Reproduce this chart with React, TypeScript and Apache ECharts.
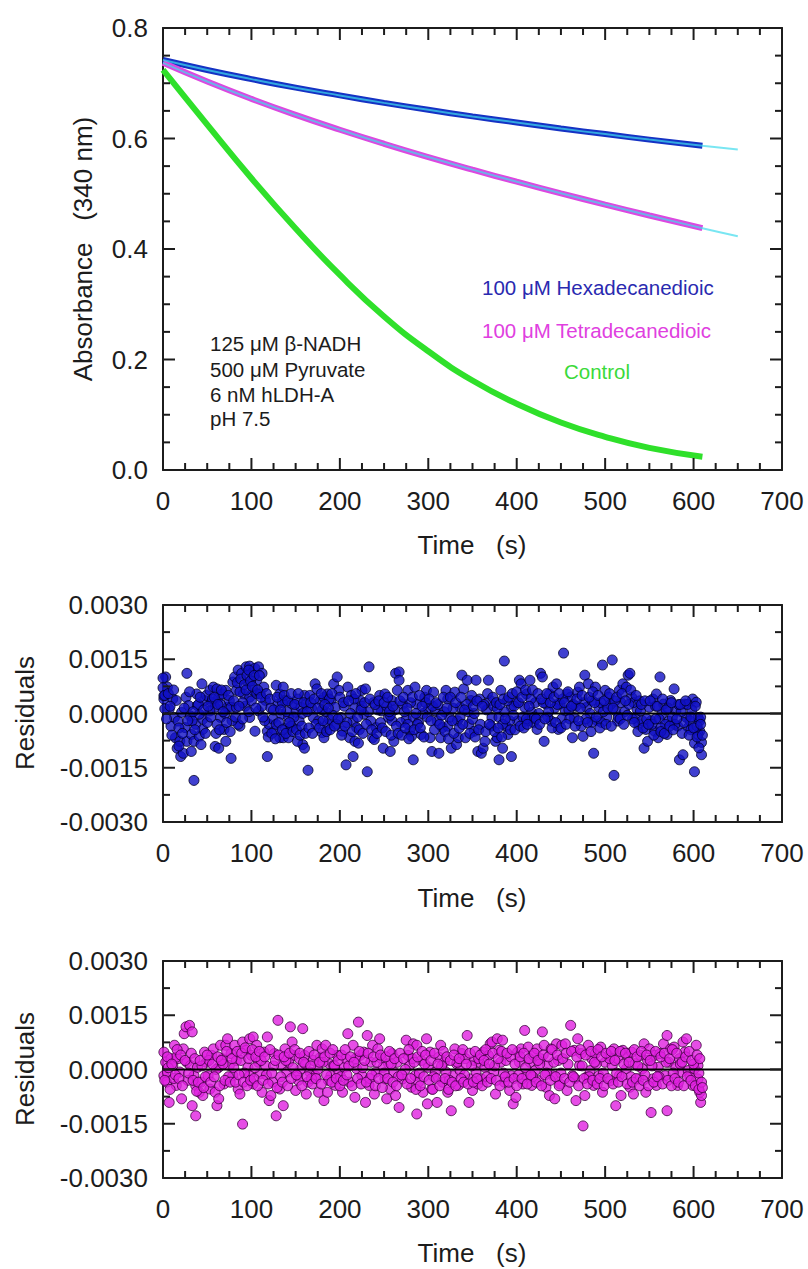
import React, { useEffect, useRef } from "react";
import * as echarts from "echarts";

// ---- Top panel: absorbance traces ----
const hexaT = [0, 50, 100, 150, 200, 250, 300, 350, 400, 450, 500, 550, 610];
const hexaA = [0.742, 0.724, 0.7075, 0.692, 0.678, 0.6645, 0.652, 0.64, 0.629, 0.618, 0.608, 0.598, 0.587];
const hexaExtT = [610, 650];
const hexaExtA = [0.587, 0.58];

const tetraT = [0, 50, 100, 150, 200, 250, 300, 350, 400, 450, 500, 550, 610];
const tetraA = [0.737, 0.7031, 0.6717, 0.6427, 0.6158, 0.5904, 0.5664, 0.5436, 0.5218, 0.5008, 0.4804, 0.4607, 0.4377];
const tetraExtT = [610, 650];
const tetraExtA = [0.4377, 0.4232];

const controlT = [0, 50, 100, 150, 200, 250, 300, 350, 400, 450, 500, 550, 610];
const controlA = [0.724, 0.625, 0.528, 0.437, 0.353, 0.278, 0.215, 0.162, 0.12, 0.086, 0.06, 0.04, 0.024];

// ---- Residuals, [time s, residual x1e-4] ----
const hexaResidE4 = [
  [3,10.1],[5,7.3],[1,4.0],[11,4.0],[7,1.2],[15,3.6],[13,-1.1],[9,-3.5],[14,-6.7],[16,-9.6],[20,-11.9],[23,-11.0],[19,-7.7],[17,-2.1],[27,11.1],[26,4.5],[29,2.2],[25,-3.9],[27,-7.7],[32,-5.8],[35,-7.7],[37,-3.0],[35,-18.5],[32,-10.5],[41,-6.3],[43,-8.6],[44,8.2],[38,5.4],[39,2.2],[45,-1.6],[47,3.6],[21,0.3],[31,-0.7],[41,-0.2],[0,9.8],[0,7.1],[1,4.9],[2,1.3],
  [49,5.0],[53,6.4],[57,7.3],[61,6.8],[55,3.1],[59,1.7],[63,4.5],[67,5.4],[71,6.4],[73,1.7],[65,-1.1],[61,-3.0],[59,-9.1],[63,-9.6],[71,-7.7],[77,-12.4],[69,-4.4],[75,3.6],[79,8.7],[81,10.1],[83,6.4],[85,12.0],[89,11.1],[94,12.9],[98,13.1],[100,11.1],[104,12.5],[108,12.9],[112,11.1],[106,9.2],[96,8.7],[91,5.4],[98,4.5],[102,6.4],[87,-3.5],[85,-3.0],[98,-1.1],[77,1.7],[83,1.7],[53,0.7],[45,-4.4],[65,2.5],[87,6.0],[93,2.0],[100,3.5],[106,5.5],
  [104,-4.9],[110,5.4],[114,7.3],[116,3.6],[108,0.7],[118,-11.9],[118,-4.9],[120,-3.0],[126,-4.9],[128,7.8],[132,5.4],[136,7.3],[130,2.6],[138,3.6],[134,-0.2],[132,-6.7],[136,-6.7],[142,-6.7],[144,-3.9],[146,2.6],[150,0.3],[154,-2.1],[158,-8.6],[160,-9.6],[156,1.7],[160,5.0],[162,2.6],[164,-15.7],[152,-7.7],[142,-1.1],[112,2.0],[122,1.5],[124,-1.5],[140,0.5],[148,-1.0],[138,-4.0],
  [166,5.0],[170,-1.1],[172,8.2],[174,6.8],[178,3.6],[182,4.5],[186,5.4],[180,-5.3],[182,-6.7],[186,-3.0],[188,-1.6],[190,3.6],[193,8.2],[197,10.1],[199,6.4],[195,1.7],[201,-1.1],[203,-4.9],[207,-14.2],[209,7.3],[213,5.0],[217,1.7],[215,-2.1],[211,-6.7],[217,-7.7],[221,-8.2],[219,-3.9],[223,3.6],[225,6.4],[229,6.8],[215,-11.9],[231,-16.1],[233,12.9],[227,-0.2],[168,1.5],[176,-2.0],[184,0.5],[192,-0.5],[205,2.0],[212,0.0],[220,-1.0],[225,2.0],
  [235,-2.1],[237,-6.7],[239,-7.2],[241,-3.9],[245,5.0],[247,0.7],[251,5.4],[249,-9.6],[255,-1.1],[259,3.6],[261,-7.7],[263,11.1],[267,11.5],[267,9.2],[265,6.4],[257,-10.5],[271,2.6],[275,-1.6],[277,6.4],[279,-4.9],[281,-6.3],[283,-12.8],[285,7.3],[287,2.6],[243,1.0],[253,2.0],[259,-2.0],[262,1.0],[269,-2.5],[273,0.5],[283,-1.0],[280,3.0],
  [289,-2.5],[292,-5.8],[296,4.5],[298,6.4],[300,1.2],[302,-6.7],[304,-10.5],[306,5.9],[308,0.7],[310,-2.1],[312,-11.0],[314,-6.7],[316,-3.9],[320,6.4],[322,4.0],[324,-1.1],[326,-9.6],[330,5.9],[332,-8.6],[334,-6.7],[336,1.7],[338,10.6],[340,6.8],[344,9.2],[342,-6.7],[346,-3.0],[348,3.6],[350,-1.6],[352,-4.9],[354,9.2],[356,-10.5],[294,0.0],[299,-1.0],[305,2.0],[318,0.5],[328,1.5],[333,-2.0],[345,0.5],
  [358,4.0],[360,-11.0],[362,-9.6],[364,-7.7],[368,9.2],[370,3.6],[372,-1.1],[376,-7.7],[378,-6.7],[382,6.4],[384,-9.6],[386,14.5],[388,-3.5],[390,-5.8],[380,-12.8],[394,-11.9],[394,1.7],[399,3.1],[401,-2.1],[403,9.2],[405,8.2],[409,1.7],[411,5.4],[415,9.2],[417,0.3],[413,-2.1],[366,1.0],[374,2.0],[380,-1.0],[386,0.5],[392,-2.0],[397,2.0],[407,-1.0],
  [419,-2.5],[423,-4.4],[427,11.1],[429,10.1],[431,-7.7],[433,2.6],[437,5.4],[439,-2.1],[441,7.3],[445,8.2],[447,-4.4],[449,2.6],[453,16.7],[455,0.7],[457,5.4],[461,4.5],[463,-6.7],[465,-1.1],[469,5.9],[471,7.3],[473,-3.5],[477,10.6],[479,1.7],[481,8.2],[475,-6.3],[421,3.0],[425,0.0],[435,-1.0],[443,1.5],[451,-1.5],[459,1.0],[467,2.0],[483,0.0],[476,3.0],
  [485,3.6],[487,-11.0],[489,7.3],[493,1.7],[497,13.4],[500,6.4],[504,4.5],[508,14.8],[510,-17.1],[512,0.7],[514,-2.1],[516,6.4],[520,8.2],[524,7.3],[526,10.6],[528,11.1],[530,4.5],[534,-1.1],[536,1.2],[538,-3.0],[540,0.7],[544,-9.6],[546,-4.4],[491,-2.0],[495,3.0],[502,-1.0],[506,2.5],[518,3.0],[522,0.5],[532,3.0],[542,-2.0],[485,-2.5],[498,0.5],
  [548,-7.7],[550,1.7],[554,4.0],[556,-4.9],[558,5.4],[560,-6.7],[562,10.1],[564,-0.2],[566,2.6],[570,-5.8],[572,-2.1],[574,3.6],[578,6.8],[580,0.7],[582,-3.5],[584,-12.8],[588,-11.4],[590,2.6],[592,-1.1],[594,-3.9],[599,4.0],[601,-8.2],[601,-16.1],[603,3.1],[605,-1.1],[607,-4.9],[609,-11.4],[605,-5.8],[552,-2.0],[561,-1.5],[568,-3.0],[576,-1.0],[586,0.5],[596,-2.0],[598,1.0],[607,-2.0],[609,-8.0],
  [2,5.0],[8,2.0],[18,-4.0],[24,1.5],[33,-2.0],[40,2.5],[50,-2.5],[56,4.0],[70,0.0],[78,-2.0],[90,3.0],[97,0.5],[115,-2.0],[128,-3.0],[135,3.0],[145,-3.5],[152,4.0],[158,0.0],[173,-3.0],[180,1.0],[188,4.0],[196,-3.0],[208,-2.5],[216,4.0],[232,0.5],[238,3.0],[246,-2.5],[257,-0.5],[264,-3.5],[277,-3.0],[288,-3.0],[297,3.0],[303,-2.0],[311,2.5],[315,-0.5],[322,-3.5],[336,-1.0],[343,2.5],[352,0.0],[359,-3.0],[363,2.5],[371,-3.5],[378,1.5],[384,-3.0],[389,3.5],[396,-0.5],[402,3.0],[411,-1.5],[416,4.0],[420,-1.0],[430,3.0],[436,0.5],[446,2.5],[452,4.0],[460,-1.5],[464,2.5],[472,1.5],[478,-1.5],[488,3.0],[496,-2.5],[503,1.5],[511,3.5],[515,-1.0],[527,2.5],[531,-1.5],[539,3.5],[547,-1.5],[553,-3.0],[557,2.0],[563,-4.0],[571,1.5],[579,-3.0],[583,2.5],[589,-2.5],[593,2.5],[597,-4.5],[604,-3.5],[608,-1.0],
  [4,-1.5],[6,5.5],[10,-6.0],[12,6.5],[18,-9.0],[22,-5.5],[28,-2.0],[30,6.0],[34,0.5],[36,-4.5],[42,4.5],[46,1.0],[48,-5.5],[51,2.0],[54,-1.0],[58,4.5],[60,-5.5],[62,2.5],[64,-4.5],[66,6.5],[68,0.5],[72,-2.5],[74,5.0],[76,-5.0],[80,3.5],[82,-1.0],[84,8.5],[86,2.0],[88,9.5],[90,-1.5],[92,8.0],[94,6.5],[95,10.5],[97,12.0],[99,9.0],[101,7.5],[103,10.5],[105,1.5],[107,6.5],[109,10.5],[111,4.5],[113,-1.0],[117,5.5],[119,-6.5],[121,4.0],[123,-5.5],[125,1.0],[127,-7.0],[129,4.5],[131,-2.5],[133,1.0],[135,-4.5],[137,5.0],[139,-5.5],[141,3.5],[143,-2.5],[145,5.5],[147,-5.0],[149,2.5],[151,-4.5],[153,5.5],[155,-6.0],[157,-3.5],[159,3.0],[161,-5.5],[163,0.5],[165,-4.0],[167,3.0],[169,-5.5],[171,4.0],[175,1.5],[177,-4.0],[179,5.5],[181,-2.0],[183,2.5],[185,-5.0],[187,1.5],[189,-4.5],[191,5.5],[194,-3.5],[198,-1.5],[200,4.5],[202,-6.0],[204,3.0],[206,-3.5],[210,3.5],[214,-5.0],[218,5.5],[222,-4.5],[224,1.0],[226,-5.5],[228,3.0],[230,-3.0],[234,4.0],[236,-4.5],[240,2.5],[242,-5.5],[244,3.5],[248,-4.0],[250,3.0],[252,-5.0],[254,4.5],[256,0.5],[258,-6.0],[260,2.0],[266,-5.5],[268,3.5],[270,-6.0],[272,4.5],[274,-4.0],[276,1.5],[278,-7.0],[282,4.5],[284,-4.5],[286,0.0],[290,5.0],[291,-4.0],[293,2.0],[295,-6.5],[301,4.0],[307,-4.5],[309,3.0],[313,-3.0],[317,4.5],[319,-5.0],[321,1.5],[323,-7.0],[325,4.5],[327,-2.0],[329,-5.5],[331,3.0],[335,-4.0],[337,4.5],[339,-3.0],[341,1.0],[347,-5.5],[349,5.0],[351,2.0],[353,-6.5],[355,3.5],[357,-4.5],[361,2.0],[365,-5.0],[367,5.5],[369,-3.0],[373,4.5],[375,-5.0],[377,3.0],[379,-4.0],[381,2.5],[383,-6.5],[385,4.0],[387,-1.5],[391,4.5],[393,-4.5],[395,5.5],[398,-4.5],[400,6.0],[404,-3.5],[406,4.5],[408,-4.0],[410,6.5],[412,-3.0],[414,2.0],[418,6.5],[422,-1.5],[424,5.5],[426,-3.0],[428,4.0],[432,-1.5],[434,5.5],[438,3.0],[440,-4.0],[442,4.5],[444,-2.5],[448,5.5],[450,-4.0],[454,3.0],[456,-3.0],[458,6.0],[462,2.0],[466,-3.5],[468,4.0],[470,-2.0],[474,5.0],[480,-2.5],[482,4.5],[484,-5.0],[486,6.0],[490,-1.0],[492,5.0],[494,-4.0],[499,3.5],[501,-3.0],[505,5.5],[507,-3.5],[509,1.5],[513,4.5],[517,-1.5],[519,5.5],[521,-3.0],[523,3.5],[525,-0.5],[529,6.5],[533,-2.5],[535,5.0],[537,-5.0],[541,2.5],[543,-4.0],[545,3.5],[549,-3.0],[551,3.5],[555,-6.0],[557,-1.5],[559,2.0],[563,-5.0],[565,4.0],[567,-5.5],[569,1.0],[573,-3.5],[575,3.0],[577,-4.5],[581,-1.5],[585,2.5],[587,-5.5],[591,3.5],[595,-6.0],[597,-1.0],[600,-4.0],[602,2.0],[604,-6.5],[606,-9.5],[608,-3.0],[610,-6.0],
];

const tetraResidE4 = [
  [1,4.8],[3,2.0],[1,-1.7],[4,-3.5],[7,-9.1],[9,3.0],[11,1.1],[13,6.7],[15,-4.4],[17,3.0],[19,-0.7],[21,-8.1],[23,5.7],[24,9.9],[26,11.8],[30,12.2],[33,10.4],[27,2.0],[31,1.1],[33,-10.0],[37,-12.8],[35,-1.7],[37,-4.4],[41,-6.3],[39,0.6],[43,-3.5],[45,-7.2],[47,4.8],[49,2.0],[15,3.4],[5,-0.7],
  [51,-1.7],[53,-5.4],[55,3.9],[57,5.7],[59,-6.3],[61,-10.0],[63,-8.1],[63,0.6],[65,6.7],[67,3.0],[69,-4.0],[71,6.7],[73,8.5],[75,1.1],[77,4.4],[79,-1.7],[81,6.7],[83,2.5],[85,-5.4],[87,-6.8],[90,-15.1],[90,7.6],[94,5.3],[96,0.6],[98,8.5],[100,3.9],[102,9.0],[102,-4.0],[98,-1.7],
  [106,6.7],[108,2.0],[110,-1.2],[112,-6.3],[114,4.8],[116,1.1],[118,9.0],[120,-8.6],[122,-7.2],[124,-3.5],[126,4.4],[128,-12.8],[130,13.6],[132,-5.4],[134,1.1],[136,-10.0],[138,5.7],[140,-0.7],[144,11.8],[146,7.6],[148,3.9],[150,-5.8],[152,-1.7],[154,3.0],[158,11.3],[156,0.2],[142,2.0],
  [160,3.9],[162,-6.8],[164,-3.5],[166,-0.7],[170,2.5],[174,6.7],[176,-6.3],[178,3.4],[180,5.7],[182,-8.6],[184,6.7],[186,-6.3],[188,1.6],[190,-1.7],[195,-4.4],[197,3.9],[199,-0.7],[203,-6.3],[205,0.6],[207,3.0],[209,9.9],[211,-3.5],[215,6.7],[217,-7.7],[219,0.2],[221,13.1],[223,3.9],[193,1.1],[172,-1.7],
  [225,-1.7],[227,4.8],[229,-9.1],[231,9.4],[233,-4.4],[235,2.0],[237,6.7],[239,-6.8],[241,-0.7],[243,5.7],[245,8.5],[247,3.0],[251,-2.6],[253,-8.1],[255,1.6],[257,-5.4],[259,4.4],[261,-0.7],[263,-7.2],[265,2.0],[267,-10.5],[271,-2.6],[275,8.1],[277,3.9],[279,1.1],[281,-4.9],[283,7.1],[285,-1.7],[287,6.7],[249,0.6],
  [287,-12.3],[289,-3.5],[292,2.5],[294,-6.3],[298,8.5],[299,-9.5],[300,0.6],[302,4.8],[304,-5.4],[308,-0.7],[310,-9.1],[312,3.4],[314,6.7],[316,-3.5],[318,2.0],[322,-6.3],[326,-11.4],[328,-1.7],[330,5.7],[332,1.6],[334,-4.4],[338,4.4],[342,3.0],[344,9.4],[346,-9.1],[348,-2.6],[350,-5.8],[352,2.5],[320,-0.7],[336,-0.3],
  [354,-0.7],[356,-4.0],[358,2.0],[362,4.8],[364,0.6],[368,3.9],[370,7.1],[372,7.6],[374,-0.7],[376,-6.8],[378,8.5],[380,5.3],[382,2.0],[384,8.1],[386,-3.5],[388,2.5],[392,-5.8],[394,-1.7],[396,-9.5],[399,-7.7],[401,4.8],[403,2.0],[405,5.7],[407,-4.0],[409,10.8],[411,-1.7],[413,6.2],[415,2.0],[417,-4.4],[360,-2.6],
  [419,3.9],[421,-0.3],[423,5.7],[425,-3.1],[427,3.0],[429,10.4],[431,6.7],[433,-4.9],[435,1.1],[437,-7.2],[439,5.7],[441,-1.7],[443,-8.1],[445,7.1],[447,2.5],[449,-4.0],[451,6.7],[455,7.1],[457,-5.8],[461,12.2],[463,-1.7],[465,5.3],[467,-8.6],[469,8.5],[471,1.1],[473,4.4],[475,-15.6],[477,-7.2],[479,-2.1],[481,6.7],
  [483,-0.3],[485,3.0],[487,-4.4],[489,4.4],[493,-1.7],[495,6.2],[497,-6.3],[500,2.0],[504,3.9],[506,-3.1],[508,1.1],[510,5.7],[512,-10.0],[514,3.0],[516,-1.7],[518,-7.2],[520,5.3],[524,0.2],[526,3.4],[528,-4.9],[530,4.8],[532,-6.8],[534,1.6],[538,-2.6],[540,3.9],[544,7.1],[546,-6.3],[542,0.2],
  [548,2.5],[550,5.7],[552,-11.9],[554,-2.6],[556,3.9],[558,-4.4],[560,0.6],[562,4.4],[566,7.1],[568,-1.7],[570,-11.4],[570,9.4],[572,2.0],[574,5.7],[578,6.2],[580,0.6],[582,-4.4],[584,3.0],[586,-0.7],[588,7.6],[590,4.8],[592,8.5],[594,-0.3],[596,-2.1],[599,-4.4],[601,0.2],[603,6.7],[605,-2.6],[607,-6.3],[608,-9.1],[609,-7.2],[605,1.1],
  [6,0.5],[12,-2.5],[28,-3.0],[44,1.0],[52,2.5],[60,0.0],[68,1.5],[74,-2.0],[80,0.5],[88,2.5],[92,-1.0],[104,0.5],[111,2.5],[117,-1.5],[125,1.0],[133,-2.0],[139,2.5],[147,0.5],[153,-3.0],[161,1.5],[168,-2.5],[175,0.0],[181,2.0],[187,-3.0],[194,1.0],[201,-2.0],[210,1.0],[218,3.0],[226,0.5],[234,-2.5],[242,2.0],[250,-1.0],[258,1.5],[266,-2.0],[274,0.0],[282,3.0],[290,-1.0],[296,1.5],[306,-2.0],[315,1.0],[324,-3.0],[333,2.0],[341,-1.5],[349,1.0],[357,3.0],[366,-2.0],[375,1.0],[385,-1.0],[393,3.5],[402,-1.5],[410,0.5],[418,-2.0],[426,1.5],[434,-1.0],[442,2.0],[450,-1.0],[458,1.5],[466,-2.5],[474,1.0],[482,-2.0],[490,1.5],[498,-1.0],[505,3.0],[513,-1.0],[521,1.5],[529,-2.0],[537,1.0],[545,-1.5],[553,1.0],[561,-2.0],[569,2.0],[577,-1.0],[585,1.5],[593,-2.0],[600,1.5],[606,-1.0],
  [2,-3.0],[5,3.5],[8,-5.5],[10,1.5],[14,-1.5],[16,5.5],[18,-2.5],[20,4.0],[22,-4.5],[25,2.5],[29,-1.0],[32,4.5],[34,-3.0],[36,3.0],[38,-6.0],[40,-3.5],[42,2.5],[46,-5.0],[48,-2.0],[50,4.0],[54,-3.5],[56,1.5],[58,-2.0],[62,3.5],[64,-4.5],[66,2.5],[70,-3.0],[72,5.0],[76,-3.5],[78,3.0],[82,-3.5],[84,5.0],[86,-1.5],[89,4.5],[91,-3.5],[93,6.0],[95,-4.5],[97,3.0],[99,-3.0],[101,5.5],[103,-2.5],[105,3.5],[107,-4.5],[109,5.0],[113,-3.0],[115,3.5],[119,-4.0],[121,5.5],[123,-1.0],[127,2.5],[129,-5.0],[131,4.0],[135,-3.5],[137,3.5],[141,-4.5],[143,4.5],[145,-2.5],[149,5.5],[151,-1.5],[155,4.5],[157,-4.5],[159,2.0],[163,-2.0],[165,5.0],[167,1.0],[169,-4.0],[171,4.0],[173,-2.5],[177,2.0],[179,-4.0],[183,3.5],[185,-1.5],[189,4.5],[191,-3.5],[192,5.5],[196,-2.5],[198,2.5],[200,-4.5],[202,4.0],[204,-3.0],[206,5.5],[208,-1.5],[212,3.5],[214,-4.5],[216,2.0],[220,-2.5],[222,5.0],[224,-4.0],[228,2.5],[230,-3.5],[232,4.5],[236,-1.5],[238,3.5],[240,-4.5],[244,-2.5],[246,4.0],[248,-5.0],[252,3.5],[254,-2.5],[256,5.0],[260,-3.5],[262,3.0],[264,-4.5],[268,4.5],[270,-1.5],[272,3.0],[276,-4.0],[278,5.5],[280,-2.5],[284,2.0],[286,-5.5],[288,3.5],[291,-4.5],[293,5.0],[295,-2.0],[297,4.0],[301,-3.0],[303,2.5],[305,-5.5],[307,4.5],[309,-2.5],[311,1.5],[313,-4.5],[317,5.0],[319,-2.5],[321,3.5],[323,-5.5],[325,2.5],[327,-3.5],[329,4.0],[331,-4.5],[335,3.0],[337,-2.5],[339,5.5],[340,-3.5],[343,1.5],[345,-4.0],[347,4.5],[351,-3.5],[353,5.0],[355,-2.5],[359,4.0],[361,-4.5],[363,2.5],[365,5.5],[367,-3.5],[369,1.5],[371,-2.5],[373,4.5],[377,-3.0],[379,3.0],[381,-4.5],[383,5.0],[387,-2.0],[389,4.5],[391,-3.5],[395,5.5],[397,-2.5],[398,1.5],[400,-4.5],[404,3.5],[406,-2.5],[408,4.5],[412,-4.0],[414,3.0],[416,-1.5],[420,4.5],[422,-3.5],[424,2.5],[428,-4.5],[430,4.0],[432,-1.5],[436,3.5],[438,-3.0],[440,5.5],[444,-2.0],[446,4.0],[448,-4.5],[452,3.0],[454,-2.5],[456,4.5],[460,-3.5],[462,5.0],[464,-2.0],[468,3.5],[470,-4.5],[472,5.5],[476,-2.5],[478,4.0],[480,-4.0],[484,5.0],[486,-3.0],[488,2.0],[491,-4.0],[492,5.5],[494,-2.5],[496,3.5],[499,-4.5],[501,4.5],[503,-2.5],[507,5.0],[509,-4.0],[511,2.5],[515,-3.5],[517,5.0],[519,-2.0],[523,4.5],[525,-4.0],[527,2.0],[531,-3.5],[533,5.5],[535,-2.5],[536,3.5],[539,-4.5],[541,5.0],[543,-3.0],[547,4.0],[549,-4.5],[551,2.5],[555,-3.5],[557,5.0],[559,-2.0],[563,3.5],[565,-4.0],[567,4.5],[571,-3.0],[573,3.0],[575,-4.5],[576,5.5],[579,-2.5],[581,4.5],[583,-3.5],[587,2.0],[589,-4.5],[591,3.5],[595,5.0],[597,-3.0],[598,2.5],[602,-4.5],[604,4.0],[606,-5.5],[607,3.0],[609,-3.5],[610,-5.0],
];

// ---- Axis ranges and tick positions ----
const timeRange = [0, 700];
const absRange = [0, 0.8];
const residRange = [-0.003, 0.003];
const timeMajorTicks = [0, 100, 200, 300, 400, 500, 600, 700];
const timeMinorTicks = [25, 50, 75, 125, 150, 175, 225, 250, 275, 325, 350, 375, 425, 450, 475, 525, 550, 575, 625, 650, 675];
const absMajorTicks = [0, 0.2, 0.4, 0.6, 0.8];
const absMinorTicks = [0.05, 0.1, 0.15, 0.25, 0.3, 0.35, 0.45, 0.5, 0.55, 0.65, 0.7, 0.75];
const residMajorTicks = [-0.003, -0.0015, 0, 0.0015, 0.003];
const residMinorTicks = [-0.00225, -0.00075, 0.00075, 0.00225];

const FONT = '"Liberation Sans", Arial, sans-serif';
const INK = "#1c1c1c";
const GRID_W = 619;
const MAJOR_LEN = 12;
const MINOR_LEN = 7;

const pairs = (t: number[], a: number[]) => t.map((v, i) => [v, a[i]]);

function xAx(gridIndex: number, position: string, showLabel: boolean) {
  return {
    type: "value", gridIndex, position, min: timeRange[0], max: timeRange[1], interval: 100,
    axisLine: { show: true, onZero: false, lineStyle: { color: INK, width: 2 } },
    axisTick: { show: false },
    minorTick: { show: false },
    splitLine: { show: false },
    axisLabel: { show: showLabel, margin: 18, color: INK, fontSize: 26, fontFamily: FONT },
  };
}
function yAx(gridIndex: number, position: string, showLabel: boolean, range: number[], interval: number, digits: number) {
  return {
    type: "value", gridIndex, position, min: range[0], max: range[1], interval,
    axisLine: { show: true, onZero: false, lineStyle: { color: INK, width: 2 } },
    axisTick: { show: false },
    minorTick: { show: false },
    splitLine: { show: false },
    axisLabel: {
      show: showLabel, margin: 15, color: INK, fontSize: 26, fontFamily: FONT,
      formatter: (v: number) => (Math.abs(v) < 1e-12 ? 0 : v).toFixed(digits),
    },
  };
}

// inward tick marks on all four sides, drawn as short line segments in data coordinates
function tickSeries(xi: number, yi: number, gridH: number, yRange: number[], yMajor: number[], yMinor: number[]) {
  const out: any[] = [];
  const ySpan = yRange[1] - yRange[0];
  const xSpan = timeRange[1] - timeRange[0];
  const seg = (a: number[], b: number[]) => ({
    type: "line", xAxisIndex: xi, yAxisIndex: yi, data: [a, b], showSymbol: false, symbol: "none",
    silent: true, clip: false, z: 6, emphasis: { disabled: true },
    lineStyle: { color: INK, width: 2, cap: "butt" },
  });
  const addX = (t: number, len: number) => {
    const d = (len * ySpan) / gridH;
    out.push(seg([t, yRange[0]], [t, yRange[0] + d]));
    out.push(seg([t, yRange[1]], [t, yRange[1] - d]));
  };
  const addY = (v: number, len: number) => {
    const d = (len * xSpan) / GRID_W;
    out.push(seg([timeRange[0], v], [timeRange[0] + d, v]));
    out.push(seg([timeRange[1], v], [timeRange[1] - d, v]));
  };
  timeMajorTicks.forEach((t) => addX(t, MAJOR_LEN));
  timeMinorTicks.forEach((t) => addX(t, MINOR_LEN));
  yMajor.forEach((v) => addY(v, MAJOR_LEN));
  yMinor.forEach((v) => addY(v, MINOR_LEN));
  return out;
}

export default function App() {
  const ref = useRef<HTMLDivElement>(null);
  useEffect(() => {
    if (!ref.current) return;
    const chart = echarts.init(ref.current, undefined, { renderer: "svg" });
    const grids = [
      { left: 163, top: 28, width: GRID_W, height: 442, containLabel: false },
      { left: 163, top: 605, width: GRID_W, height: 217, containLabel: false },
      { left: 163, top: 961, width: GRID_W, height: 217, containLabel: false },
    ];

    const fitStyle = { color: "#40dcec", width: 2, opacity: 0.7 };
    const residStyle = (fill: string, border: string) => ({ color: fill, borderColor: border, borderWidth: 1 });

    const text = (t: string, x: number, y: number, size: number, fill: string, align = "left", rot = 0) => ({
      type: "text", x, y, rotation: rot, z: 50,
      style: { text: t, fill, font: `${size}px ${FONT}`, textAlign: align, textVerticalAlign: "middle" },
    });

    chart.setOption({
      animation: false,
      grid: grids,
      xAxis: [xAx(0, "bottom", true), xAx(0, "top", false), xAx(1, "bottom", true), xAx(1, "top", false), xAx(2, "bottom", true), xAx(2, "top", false)],
      yAxis: [
        yAx(0, "left", true, absRange, 0.2, 1), yAx(0, "right", false, absRange, 0.2, 1),
        yAx(1, "left", true, residRange, 0.0015, 4), yAx(1, "right", false, residRange, 0.0015, 4),
        yAx(2, "left", true, residRange, 0.0015, 4), yAx(2, "right", false, residRange, 0.0015, 4),
      ],
      series: [
        { type: "line", xAxisIndex: 0, yAxisIndex: 0, data: pairs(hexaT, hexaA), smooth: 0.5, showSymbol: false, lineStyle: { color: "#1532c4", width: 6 } },
        { type: "line", xAxisIndex: 0, yAxisIndex: 0, data: pairs(tetraT, tetraA), smooth: 0.5, showSymbol: false, lineStyle: { color: "#dc48e0", width: 6 } },
        { type: "line", xAxisIndex: 0, yAxisIndex: 0, data: pairs(controlT, controlA), smooth: 0.5, showSymbol: false, lineStyle: { color: "#2fe02a", width: 6 } },
        { type: "line", xAxisIndex: 0, yAxisIndex: 0, data: pairs(hexaT, hexaA).concat(pairs(hexaExtT, hexaExtA).slice(1)), smooth: 0.5, showSymbol: false, lineStyle: fitStyle },
        { type: "line", xAxisIndex: 0, yAxisIndex: 0, data: pairs(tetraT, tetraA).concat(pairs(tetraExtT, tetraExtA).slice(1)), smooth: 0.5, showSymbol: false, lineStyle: fitStyle },
        { type: "scatter", xAxisIndex: 2, yAxisIndex: 2, symbolSize: 10, data: hexaResidE4.map((p) => [p[0], p[1] * 1e-4]), itemStyle: residStyle("#1010c4", "#000022") },
        { type: "line", xAxisIndex: 2, yAxisIndex: 2, data: [[timeRange[0], 0], [timeRange[1], 0]], showSymbol: false, lineStyle: { color: "#000", width: 1.8 } },
        { type: "scatter", xAxisIndex: 4, yAxisIndex: 4, symbolSize: 10, data: tetraResidE4.map((p) => [p[0], p[1] * 1e-4]), itemStyle: residStyle("#e020e0", "#3a003a") },
        { type: "line", xAxisIndex: 4, yAxisIndex: 4, data: [[timeRange[0], 0], [timeRange[1], 0]], showSymbol: false, lineStyle: { color: "#000", width: 1.8 } },
        ...tickSeries(0, 0, 442, absRange, absMajorTicks, absMinorTicks),
        ...tickSeries(2, 2, 217, residRange, residMajorTicks, residMinorTicks),
        ...tickSeries(4, 4, 217, residRange, residMajorTicks, residMinorTicks),
      ],
      graphic: [
        text("Absorbance\u00A0\u00A0\u00A0(340 nm)", 83, 249, 26, INK, "center", Math.PI / 2),
        text("Time\u00A0\u00A0\u00A0(s)", 472, 545, 26, INK, "center"),
        text("Residuals", 25, 713, 26, INK, "center", Math.PI / 2),
        text("Time\u00A0\u00A0\u00A0(s)", 472, 898, 26, INK, "center"),
        text("Residuals", 25, 1069, 26, INK, "center", Math.PI / 2),
        text("Time\u00A0\u00A0\u00A0(s)", 472, 1253, 26, INK, "center"),
        text("125 \u03bcM \u03b2-NADH", 210, 343, 20.5, INK),
        text("500 \u03bcM Pyruvate", 210, 369, 20.5, INK),
        text("6 nM hLDH-A", 210, 394, 20.5, INK),
        text("pH 7.5", 210, 418, 20.5, INK),
        text("100 \u03bcM Hexadecanedioic", 482, 287, 20.5, "#2a2ab0"),
        text("100 \u03bcM Tetradecanedioic", 482, 330, 20.5, "#e040e0"),
        text("Control", 597, 371, 20.5, "#3ada3a", "center"),
      ],
    });
    return () => chart.dispose();
  }, []);
  return (
    <div style={{ position: "absolute", left: 0, top: 0, width: 808, height: 1269 }}>
      <div ref={ref} style={{ width: 808, height: 1269 }} />
    </div>
  );
}
